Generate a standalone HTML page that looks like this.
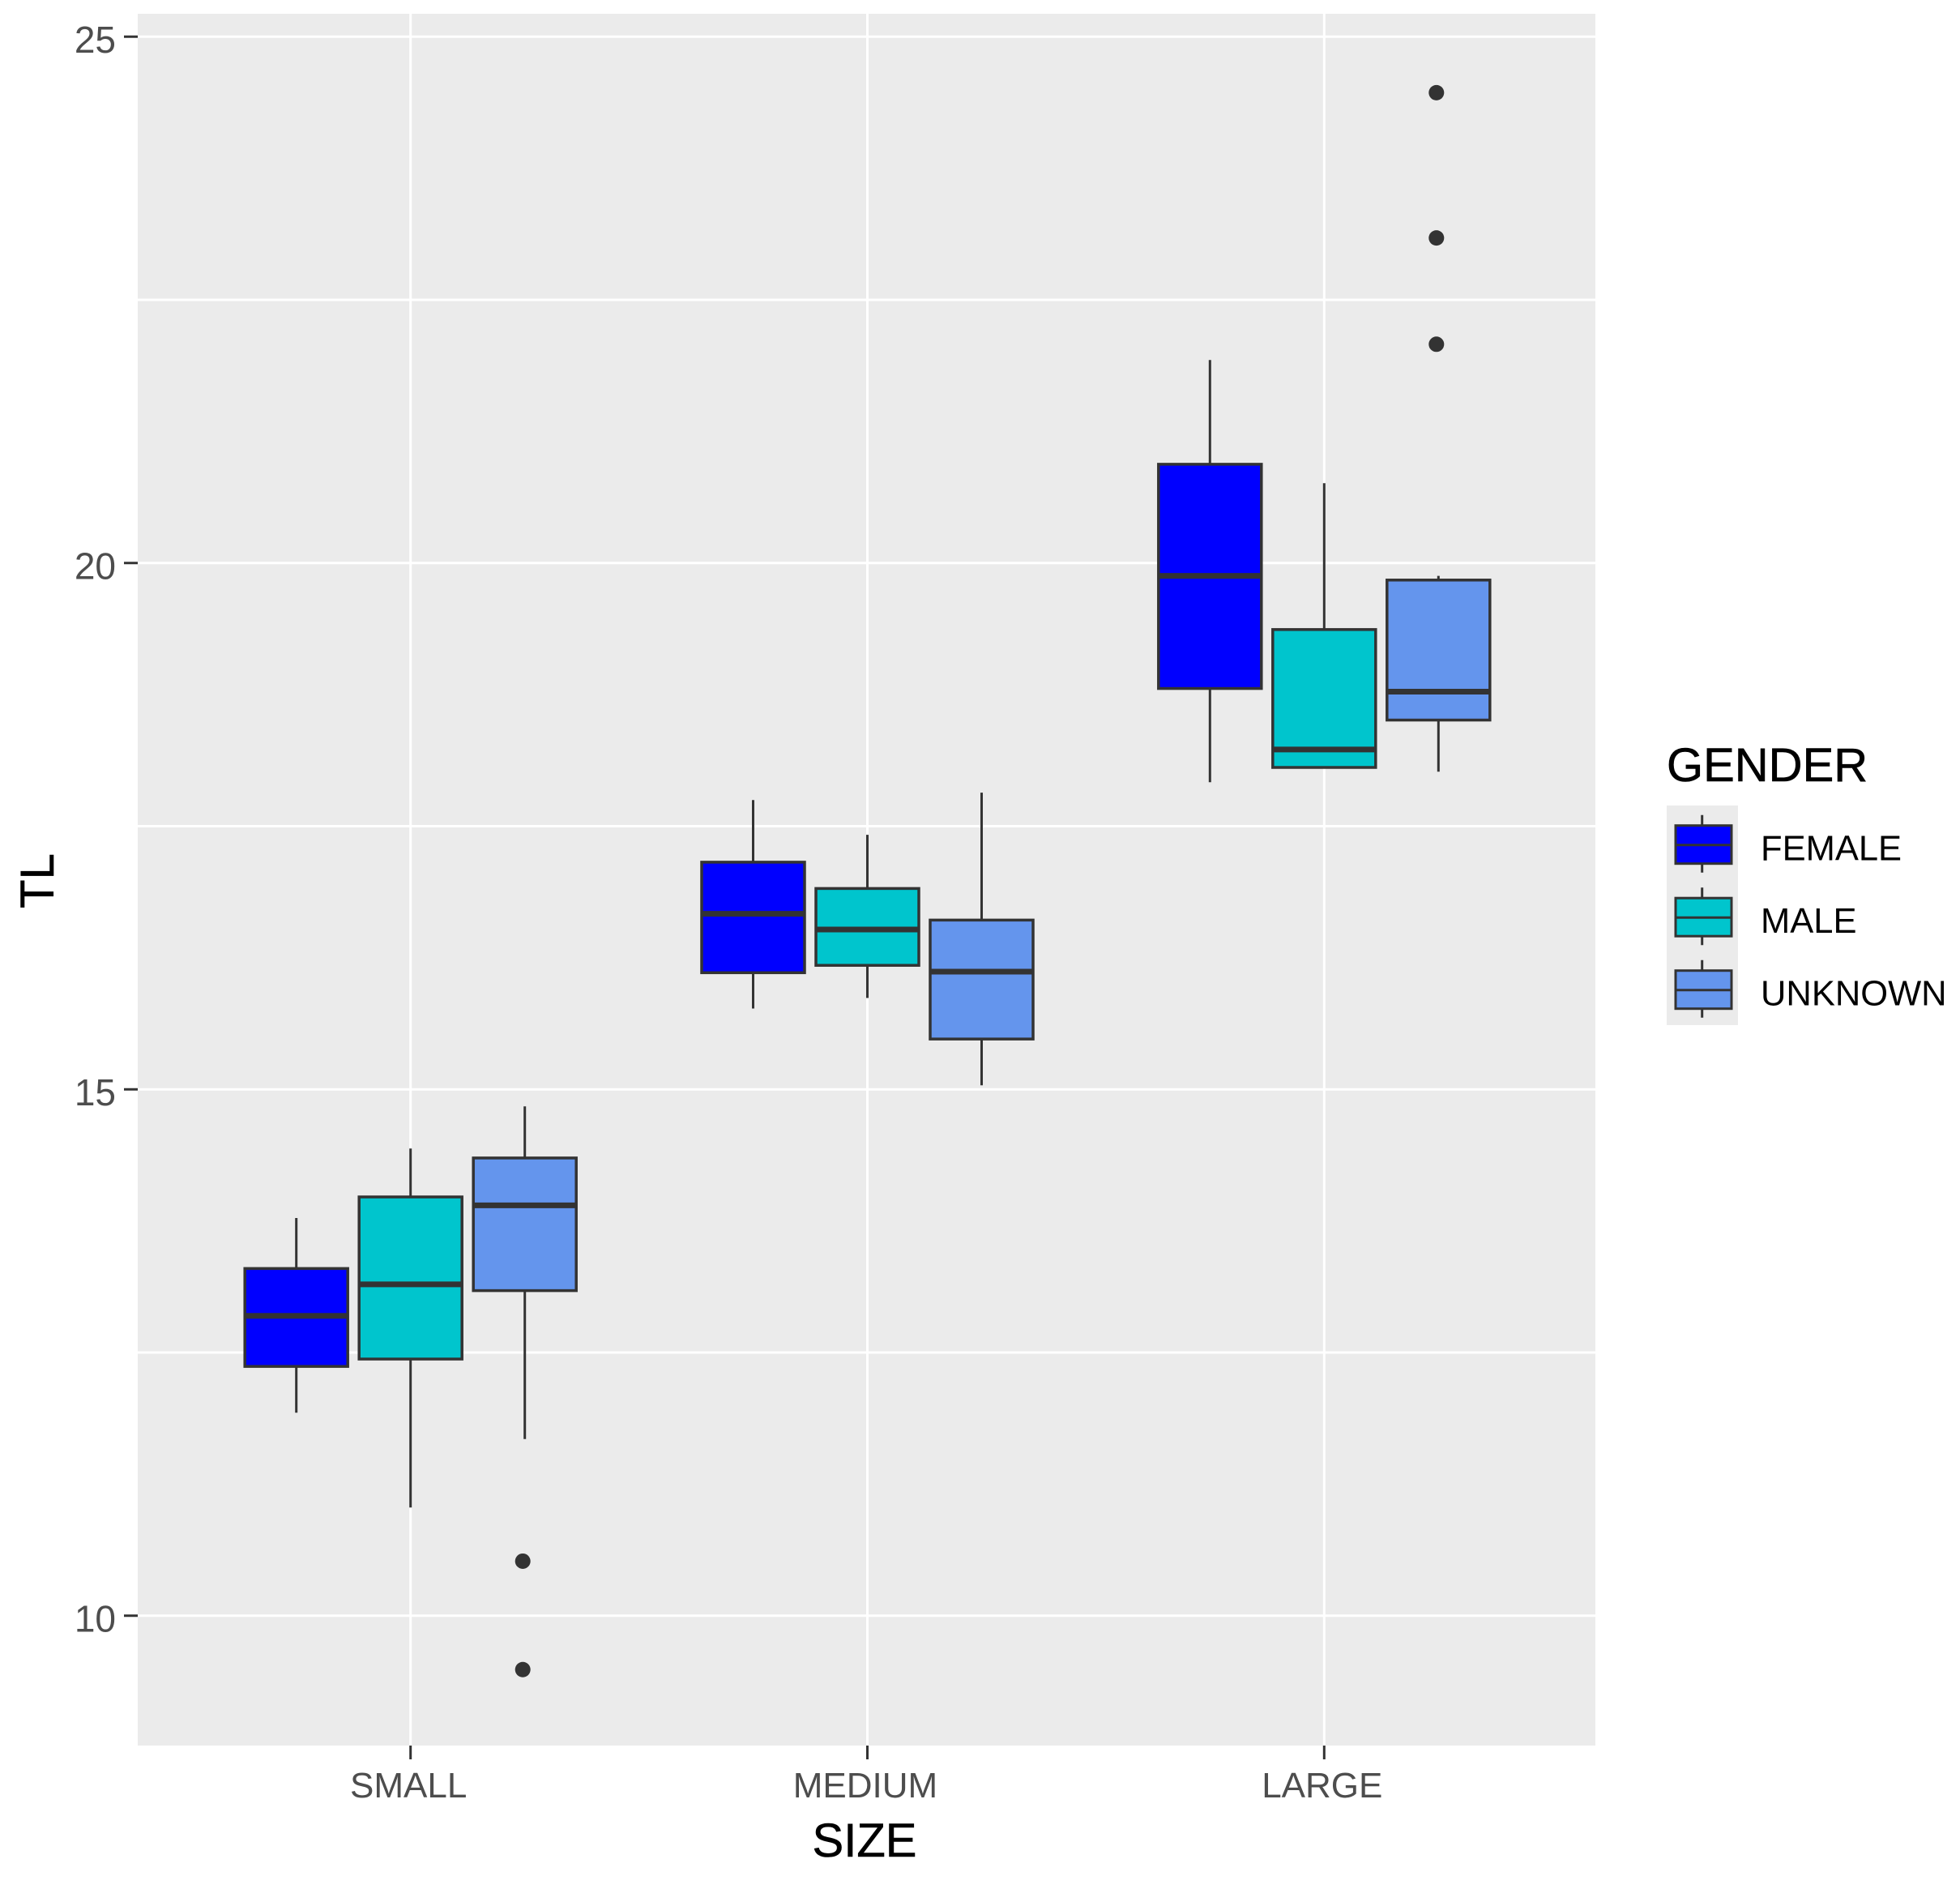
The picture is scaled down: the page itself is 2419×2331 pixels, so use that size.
<!DOCTYPE html>
<html lang="en">
<head>
<meta charset="utf-8">
<title>TL by SIZE and GENDER boxplot</title>
<style>
  html, body { margin: 0; padding: 0; background: #fff; }
  svg { display: block; font-family: "Liberation Sans", Arial, sans-serif; }
</style>
</head>
<body>
<svg id="chart" width="2419" height="2331" viewBox="0 0 2419 2331" xmlns="http://www.w3.org/2000/svg">
  <rect x="0" y="0" width="2419" height="2331" fill="#ffffff"/>
  <rect x="170" y="17" width="1799" height="2137" fill="#ebebeb"/>
  <g id="grid"></g>
  <g id="boxes"></g>
  <g id="axes"></g>
  <text x="1067" y="2291" font-size="58" text-anchor="middle" fill="#000000" stroke="#000000" stroke-width="0.6">SIZE</text>
  <text transform="translate(66 1087) rotate(-90)" font-size="58" text-anchor="middle" fill="#000000" stroke="#000000" stroke-width="0.6">TL</text>
  <g>
    <text x="2057" y="964" font-size="58" fill="#000000" stroke="#000000" stroke-width="0.6">GENDER</text>
    <rect x="2057" y="994" width="88" height="271" fill="#ebebeb"/>
    <g id="legend-keys"></g>
  </g>
</svg>
<script>
// Chart data
const categories = ['SMALL', 'MEDIUM', 'LARGE'];
const genders = ['FEMALE', 'MALE', 'UNKNOWN'];
const yTicks = [10, 15, 20, 25];
const yMinorTicks = [12.5, 17.5, 22.5];

// Each box: whisker low, Q1, median, Q3, whisker high
const femaleSmall = [11.92, 12.36, 12.84, 13.29, 13.77];
const femaleMedium = [15.76, 16.10, 16.66, 17.15, 17.74];
const femaleLarge = [17.91, 18.80, 19.87, 20.93, 21.92];
const maleSmall = [11.02, 12.43, 13.14, 13.97, 14.43];
const maleMedium = [15.86, 16.17, 16.51, 16.90, 17.41];
const maleLarge = [18.05, 18.05, 18.22, 19.36, 20.75];
const unknownSmall = [11.67, 13.08, 13.89, 14.34, 14.83];
const unknownMedium = [15.03, 15.47, 16.11, 16.60, 17.81];
const unknownLarge = [18.01, 18.50, 18.77, 19.83, 19.87];

const femaleSeries = [femaleSmall, femaleMedium, femaleLarge];
const maleSeries = [maleSmall, maleMedium, maleLarge];
const unknownSeries = [unknownSmall, unknownMedium, unknownLarge];
const allSeries = [femaleSeries, maleSeries, unknownSeries];

const femaleOutliers = [[], [], []];
const maleOutliers = [[], [], []];
const unknownOutliers = [[9.48, 10.51], [], [22.07, 23.08, 24.46]];
const allOutliers = [femaleOutliers, maleOutliers, unknownOutliers];

const genderFills = ['#0000ff', '#00c5cd', '#6495ed'];

// Axis functions
const PANEL = { left: 170, right: 1969, top: 17, bottom: 2154 };
function yScale(v) { return 1992.7 - (v - 10) * 129.9; }
function tickY(v) { return yScale(v) + 1; }
function xScale(i) { return 506.7 + i * 563.8; }
function dodge(j) { return (j - 1) * 141; }
const BOX_WIDTH = 127;
const INK = '#333333';
const NS = 'http://www.w3.org/2000/svg';

function make(tag, attrs, parent) {
  const el = document.createElementNS(NS, tag);
  for (const k in attrs) el.setAttribute(k, attrs[k]);
  parent.appendChild(el);
  return el;
}

const gridG = document.getElementById('grid');
const boxesG = document.getElementById('boxes');
const axesG = document.getElementById('axes');
const legendG = document.getElementById('legend-keys');

// Gridlines
yMinorTicks.concat(yTicks).forEach(function (t) {
  const line = make('line', { x1: PANEL.left, x2: PANEL.right, y1: tickY(t), y2: tickY(t), stroke: '#ffffff', 'stroke-width': 3 }, gridG);
  
  
});
categories.forEach(function (c, i) {
  const line = make('line', { x1: xScale(i), x2: xScale(i), y1: PANEL.top, y2: PANEL.bottom, stroke: '#ffffff', 'stroke-width': 3 }, gridG);
  
  
});

// Boxes
genders.forEach(function (g, j) {
  const gname = g.toLowerCase();
  categories.forEach(function (c, i) {
    const s = allSeries[j][i];
    const cx = xScale(i) + dodge(j);
    const cname = c.toLowerCase();

    const whisker = make('line', { x1: cx, x2: cx, y1: yScale(s[0]), y2: yScale(s[4]), stroke: INK, 'stroke-width': 3 }, boxesG);
    
    

    const box = make('rect', { x: cx - BOX_WIDTH / 2, y: yScale(s[3]), width: BOX_WIDTH, height: yScale(s[1]) - yScale(s[3]), fill: genderFills[j], stroke: INK, 'stroke-width': 3.5 }, boxesG);
    
    

    const median = make('line', { x1: cx - BOX_WIDTH / 2, x2: cx + BOX_WIDTH / 2, y1: yScale(s[2]), y2: yScale(s[2]), stroke: INK, 'stroke-width': 7 }, boxesG);
    
    

    allOutliers[j][i].forEach(function (v) {
      const pt = make('circle', { cx: cx - 2.5, cy: yScale(v), r: 9.5, fill: INK }, boxesG);
      
      
    });
  });
});

// Axes
yTicks.forEach(function (t) {
  const tick = make('line', { x1: 153, x2: PANEL.left, y1: tickY(t), y2: tickY(t), stroke: INK, 'stroke-width': 3 }, axesG);
  
  
  const label = make('text', { x: 143, y: yScale(t) + 21, 'font-size': 46, 'text-anchor': 'end', fill: '#4d4d4d' }, axesG);
  
  
  label.textContent = String(t);
});
categories.forEach(function (c, i) {
  const tick = make('line', { x1: xScale(i), x2: xScale(i), y1: PANEL.bottom, y2: 2171, stroke: INK, 'stroke-width': 3 }, axesG);
  
  
  const label = make('text', { x: xScale(i) - 2.5, y: 2218, 'font-size': 44, 'text-anchor': 'middle', fill: '#4d4d4d' }, axesG);
  
  
  label.textContent = c;
});

// Legend
function legendY(j) { return 1042.7 + j * 89.5; }
genders.forEach(function (g, j) {
  const gname = g.toLowerCase();
  const my = legendY(j);

  const whisker = make('line', { x1: 2100.7, x2: 2100.7, y1: my - 37, y2: my + 34, stroke: INK, 'stroke-width': 3 }, legendG);
  
  

  const box = make('rect', { x: 2068, y: my - 24, width: 69, height: 47, fill: genderFills[j], stroke: INK, 'stroke-width': 3 }, legendG);
  
  

  const median = make('line', { x1: 2068, x2: 2137, y1: my, y2: my, stroke: INK, 'stroke-width': 3 }, legendG);
  
  

  const label = make('text', { x: 2173, y: my + 19, 'font-size': 43.5, fill: '#000000' }, legendG);
  
  
  label.textContent = g;
});
</script>
</body>
</html>
